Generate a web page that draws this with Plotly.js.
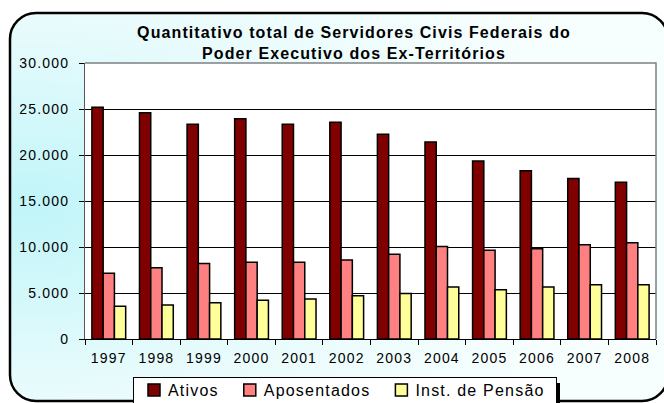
<!DOCTYPE html>
<html><head><meta charset="utf-8">
<script src="https://cdn.plot.ly/plotly-3.0.1.min.js"></script>
<style>
html,body{margin:0;padding:0;background:#fff;}
#chart{width:664px;height:403px;}
.xtick text, .ytick text {letter-spacing:1.2px;}
.legendtext{letter-spacing:1.2px; transform: translate(-6px,-5px);}
g.legendpoints{transform: translateY(-5px);}
.gtitle{letter-spacing:1.1px;}
</style></head><body><div id="chart"></div>
<script>
const years = ['1997','1998','1999','2000','2001','2002','2003','2004','2005','2006','2007','2008'];
const ativos = [25200,24600,23350,23950,23350,23550,22250,21400,19350,18300,17450,17050];
const aposentados = [7150,7750,8200,8350,8350,8600,9200,10050,9650,9800,10250,10450];
const pensao = [3550,3700,3950,4200,4350,4700,4950,5650,5350,5650,5900,5900];
const seriesNames = ['Ativos','Aposentados','Inst. de Pensão'];
const seriesColors = ['#800000','#FF8080','#FFFF99'];
const chartTitle = 'Quantitativo total de Servidores Civis Federais do<br>Poder Executivo dos Ex-Territórios';

const W = 664, H = 403;
const PL = 85, PR = 656, PT = 63, PB = 339;
const px = x => (x - PL) / (PR - PL);
const py = y => (PB - y) / (PB - PT);

const bgSvg = '<svg xmlns="http://www.w3.org/2000/svg" width="664" height="403" viewBox="0 0 664 403">' +
  '<defs><radialGradient id="g" cx="0.03" cy="0.5" r="0.85" fx="0.03" fy="0.5">' +
  '<stop offset="0" stop-color="#c0f5f9"/><stop offset="0.55" stop-color="#e8fbfc"/><stop offset="1" stop-color="#f6fefe"/></radialGradient></defs>' +
  '<rect x="10" y="13" width="658" height="388" rx="26" ry="26" fill="url(#g)" stroke="#000" stroke-width="2.5"/></svg>';
const bgUri = 'data:image/svg+xml;charset=utf-8,' + encodeURIComponent(bgSvg);

const data = [ativos, aposentados, pensao].map((vals, i) => ({
  type: 'bar', x: years, y: vals, name: seriesNames[i],
  marker: {color: seriesColors[i], line: {color: '#000', width: 1.5}},
  hoverinfo: 'x+y+name'
}));

const layout = {
  width: W, height: H,
  margin: {l: PL, r: W - PR, t: PT, b: H - PB},
  paper_bgcolor: '#ffffff', plot_bgcolor: '#ffffff',
  separators: ',.',
  font: {family: '"Liberation Sans", Arial, sans-serif', color: '#000', size: 14},
  title: {text: chartTitle, automargin: false,
          font: {size: 16, family: '"Liberation Sans", Arial, sans-serif', weight: 'bold', color: '#000'},
          xref: 'paper', x: px(354), xanchor: 'center', yref: 'container', y: 1 - 38 / H, yanchor: 'top'},
  barmode: 'group', bargap: 0.29, bargroupgap: 0,
  xaxis: {type: 'category', tickson: 'boundaries', ticks: 'outside', ticklen: 5, tickcolor: '#000', automargin: false,
          ticklabelstandoff: 6,
          showline: true, linecolor: '#000', linewidth: 1, showgrid: false, tickfont: {size: 14}},
  yaxis: {range: [0, 30000], dtick: 5000, tick0: 0, tickformat: ',d', ticks: 'outside', ticklen: 5, automargin: false,
          ticklabelstandoff: 7,
          tickcolor: '#000', showline: true, linecolor: '#555', linewidth: 1, showgrid: true,
          gridcolor: '#000', gridwidth: 1, zeroline: false, tickfont: {size: 14}, fixedrange: true},
  showlegend: true,
  legend: {orientation: 'h', xref: 'container', yref: 'container', x: 133 / W, y: 1 - 377 / H, xanchor: 'left', yanchor: 'top',
           bgcolor: '#ffffff', bordercolor: '#000', borderwidth: 1, font: {size: 16}},
  images: [{source: bgUri, xref: 'paper', yref: 'paper', x: px(0), y: py(0), sizex: W / (PR - PL), sizey: H / (PB - PT),
            xanchor: 'left', yanchor: 'top', sizing: 'stretch', layer: 'below'}],
  shapes: [
    {type: 'rect', xref: 'paper', yref: 'paper', x0: 0, x1: 1, y0: 0, y1: 1, fillcolor: '#ffffff', line: {width: 0}, layer: 'below'},
    {type: 'path', xref: 'paper', yref: 'paper', path: 'M0,1 L1,1 L1,0', line: {color: '#808080', width: 1.5}, layer: 'above'},
    {type: 'rect', xref: 'paper', yref: 'paper', x0: px(139), x1: px(560), y0: py(383), y1: py(410), fillcolor: '#000', line: {width: 0}, layer: 'above'}
  ]
};

Plotly.newPlot('chart', data, layout, {displayModeBar: false, staticPlot: true});
</script></body></html>
